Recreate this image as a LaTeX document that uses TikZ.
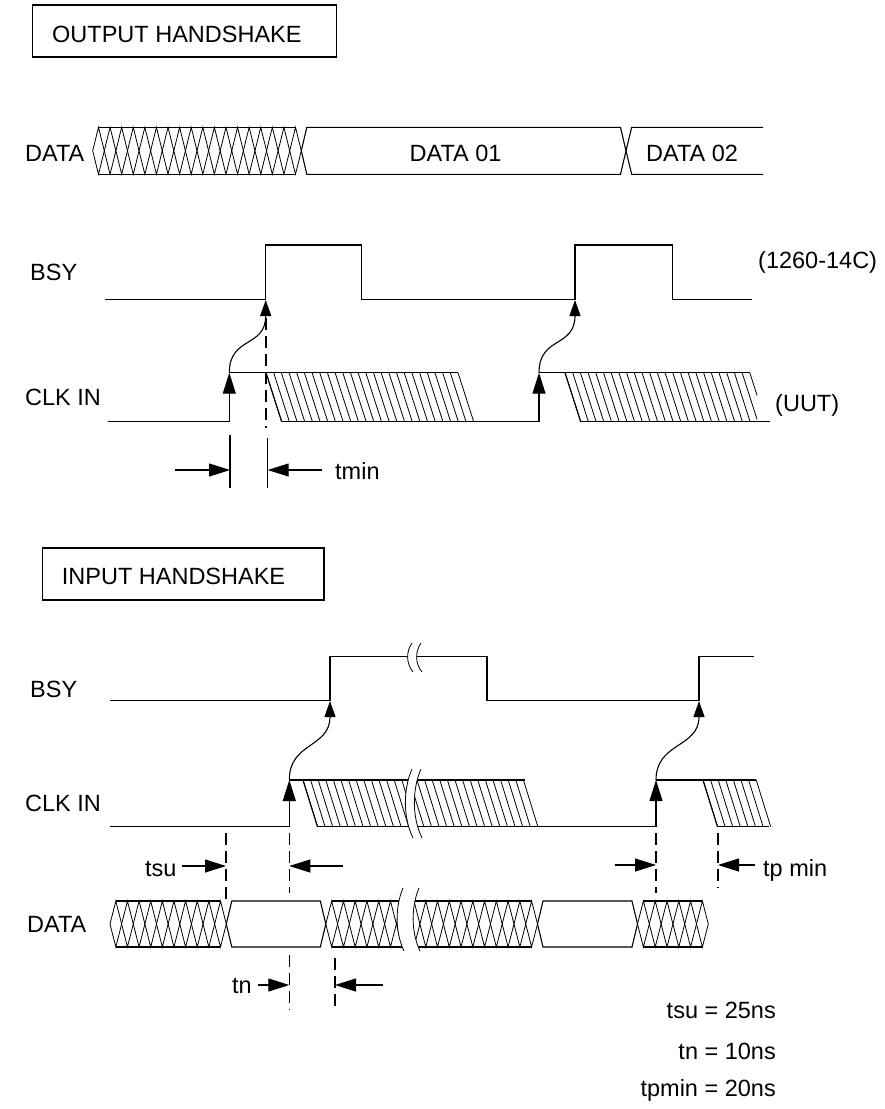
\documentclass[tikz,border=0pt]{standalone}
\usepackage{fontspec}
\setmainfont{Liberation Sans}
\usetikzlibrary{arrows.meta}
\newcommand\xzig[5]{%
  \pgfmathsetmacro\zp{(#2-#1)/#3}%
  \pgfmathsetmacro\zm{(#4+#5)/2}%
  \pgfmathsetmacro\zh{(#5-#4)/2}%
  \pgfmathtruncatemacro\zn{#3-1}%
  \draw[pat] (#1,\zm) \foreach \k in {0,...,\zn} { -- ({#1+\zp/2+\k*\zp},{\zm-\zh*cos(180*\k)}) } -- (#2,\zm);
  \draw[pat] (#1,\zm) \foreach \k in {0,...,\zn} { -- ({#1+\zp/2+\k*\zp},{\zm+\zh*cos(180*\k)}) } -- (#2,\zm);
  \draw[sig] ({#1+\zp/2},#4) -- ({#2-\zp/2},#4);
  \draw[sig] ({#1+\zp/2},#5) -- ({#2-\zp/2},#5);
}
\newcommand\wseg[4]{%
  \draw[sig] (#1,{(#3+#4)/2}) -- ({#1+5.5},#3) -- ({#2-5.5},#3) -- (#2,{(#3+#4)/2}) -- ({#2-5.5},#4) -- ({#1+5.5},#4) -- cycle;
}
% break mark: two "(" arcs with white gap; #1 x of first arc top, #2 top y, #3 bottom y, #4 bulge, #5 gap
\newcommand\brkmark[5]{%
  \fill[white] (#1,#2) .. controls ({#1-#4},{#2+(#3-#2)*0.3}) and ({#1-#4},{#3-(#3-#2)*0.3}) .. ({#1+1},#3)
     -- ({#1+#5+1},#3) .. controls ({#1+#5-#4},{#3-(#3-#2)*0.3}) and ({#1+#5-#4},{#2+(#3-#2)*0.3}) .. ({#1+#5},#2) -- cycle;
  \draw[pat] (#1,#2) .. controls ({#1-#4},{#2+(#3-#2)*0.3}) and ({#1-#4},{#3-(#3-#2)*0.3}) .. ({#1+1},#3);
  \draw[pat] ({#1+#5},#2) .. controls ({#1+#5-#4},{#2+(#3-#2)*0.3}) and ({#1+#5-#4},{#3-(#3-#2)*0.3}) .. ({#1+#5+1},#3);
}
\begin{document}
\begin{tikzpicture}[x=1pt,y=-1pt,
  sig/.style={line width=1.1pt,line join=miter},
  pat/.style={line width=0.8pt},
  lbl/.style={inner sep=0pt,font=\fontsize{23.5}{28}\selectfont},
  bighead/.style={-{Triangle[length=21pt,width=13pt]}},
  smallhead/.style={-{Triangle[length=16pt,width=11pt]}},
  dsh/.style={line width=1.1pt,dash pattern=on 12pt off 6pt},
]
\useasboundingbox (0,0) rectangle (884,1109);
\fill[white] (0,0) rectangle (884,1109);

% ---------------- OUTPUT HANDSHAKE ----------------
\draw[sig] (32.7,5) rectangle (336.7,57);
\node[lbl,anchor=base west] (outtitle) at (52,42.7) {OUTPUT HANDSHAKE};

% DATA row (top)
\node[lbl,anchor=base west] (datalbl1) at (25,161.7) {DATA};
\xzig{92.7}{301.3}{18}{127.3}{174.3}
\wseg{301.3}{626}{127.3}{174.3}
\draw[sig] (626,150.8) -- (631.7,127.3) -- (763,127.3);
\draw[sig] (626,150.8) -- (631.7,174.3) -- (763,174.3);
\node[lbl,anchor=base east] (d01) at (501.7,161.7) {DATA 01};
\node[lbl,anchor=base west] (d02) at (646,161.7) {DATA 02};

% BSY (output)
\node[lbl,anchor=base west] (bsy1) at (30,280) {BSY};
\node[lbl,anchor=base west] (tag1) at (758,268) {(1260-14C)};
\draw[sig] (105,299.3) -- (265.7,299.3) -- (265.7,245) -- (361.7,245) -- (361.7,299.3)
  -- (575,299.3) -- (575,245) -- (672.7,245) -- (672.7,299.3) -- (751.7,299.3);

% CLK IN (output)
\node[lbl,anchor=base west] (clk1) at (25,405) {CLK IN};
\node[lbl,anchor=base west] (tag2) at (775,411.7) {(UUT)};
\draw[sig] (108,421.7) -- (229.3,421.7);
\draw[sig,bighead] (229.3,421.7) -- (229.3,372.7);
\draw[sig] (229.3,372.7) -- (458,372.7);
\draw[sig] (281.7,421.7) -- (539,421.7);
\foreach \x in {266,273.68,...,459} \draw[pat] (\x,372.7) -- ++(15.7,49);
\draw[sig] (266,372.7) -- ++(15.7,49);
\draw[sig,bighead] (539,421.7) -- (539,372.7);
\draw[sig] (539,372.7) -- (750,372.7);
\draw[sig] (580,421.7) -- (770,421.7);
\begin{scope}
  \clip (560,360) rectangle (757,430);
  \foreach \x in {565,572.7,...,751} \draw[pat] (\x,372.7) -- ++(15.7,49);
  \draw[sig] (565,372.7) -- ++(15.7,49);
\end{scope}
\draw[sig,smallhead] (229.3,372.7) .. controls (229.3,336) and (265.7,348) .. (265.7,300);
\draw[sig,smallhead] (539,372.7) .. controls (539,336) and (575,348) .. (575,300);
\draw[dsh] (266,318) -- (266,428);

% tmin
\draw[sig] (230,435) -- (230,488);
\draw[sig] (267.7,438) -- (267.7,488);
\draw[sig,bighead] (175,470) -- (230,470);
\draw[sig,bighead] (321.7,470) -- (267.7,470);
\node[lbl,anchor=base west] (tmin) at (335,479.3) {tmin};

% ---------------- INPUT HANDSHAKE ----------------
\draw[sig] (42.3,548) rectangle (324,600);
\node[lbl,anchor=base west] (intitle) at (61.7,584) {INPUT HANDSHAKE};

% BSY (input)
\node[lbl,anchor=base west] (bsy2) at (30,697) {BSY};
\draw[sig] (110,700.7) -- (330,700.7) -- (330,656.7) -- (487,656.7) -- (487,700.7)
  -- (699,700.7) -- (699,656.7) -- (754,656.7);
\brkmark{412}{643}{672}{6}{9}

% CLK IN (input)
\node[lbl,anchor=base west] (clk2) at (25,811) {CLK IN};
\draw[sig] (110,826.7) -- (289.3,826.7);
\draw[sig,bighead] (289.3,826.7) -- (289.3,780);
\draw[sig] (289.3,780) -- (525,780);
\draw[sig] (317,826.7) -- (656,826.7);
\foreach \x in {303,310.6,...,526} \draw[pat] (\x,780) -- ++(14.5,46.7);
\draw[sig] (303,780) -- ++(14.5,46.7);
\draw[sig,bighead] (656,826.7) -- (656,780);
\draw[sig] (656,780) -- (756,780);
\draw[sig] (718,826.7) -- (769,826.7);
\foreach \x in {703,710.6,...,757} \draw[pat] (\x,780) -- ++(14.5,46.7);
\draw[sig] (703,780) -- ++(14.5,46.7);
\brkmark{412}{769}{838}{9}{9}
\draw[sig,smallhead] (289.3,780) .. controls (289.3,742) and (330,748) .. (330,701);
\draw[sig,smallhead] (656,780) .. controls (656,742) and (699,748) .. (699,701);

% tsu / tp min markers
\draw[dsh] (226,833) -- (226,903);
\draw[dsh] (289.3,833) -- (289.3,893);
\draw[dsh] (656,833) -- (656,893);
\draw[dsh] (718,833) -- (718,888);
\node[lbl,anchor=base west] (tsu) at (145,876) {tsu};
\draw[sig,bighead] (181.7,866) -- (226,866);
\draw[sig,bighead] (343,866) -- (289.3,866);
\draw[sig,bighead] (615,865) -- (656,865);
\draw[sig,bighead] (755,865) -- (718,865);
\node[lbl,anchor=base west] (tpmin) at (763,876) {tp min};

% DATA row (input)
\node[lbl,anchor=base west] (datalbl2) at (27,932) {DATA};
\xzig{110}{226.3}{10}{901}{947}
\wseg{226.3}{325.8}{901}{947}
\xzig{325.8}{537.5}{18}{901}{947}
\wseg{537.5}{637.5}{901}{947}
\xzig{637.5}{708.3}{6}{901}{947}
\brkmark{403}{888}{951}{8}{16}

% tn
\draw[dsh] (289.3,955) -- (289.3,1010);
\draw[dsh] (335,958) -- (335,1010);
\draw[sig,bighead] (258,985) -- (289.3,985);
\draw[sig,bighead] (383,985) -- (335,985);
\node[lbl,anchor=base west] (tn) at (232,993) {tn};

% values
\node[lbl,anchor=base east] (v1) at (776,1018.3) {tsu = 25ns};
\node[lbl,anchor=base east] (v2) at (776,1059.3) {tn = 10ns};
\node[lbl,anchor=base east] (v3) at (776,1096.7) {tpmin = 20ns};
\end{tikzpicture}
\end{document}
